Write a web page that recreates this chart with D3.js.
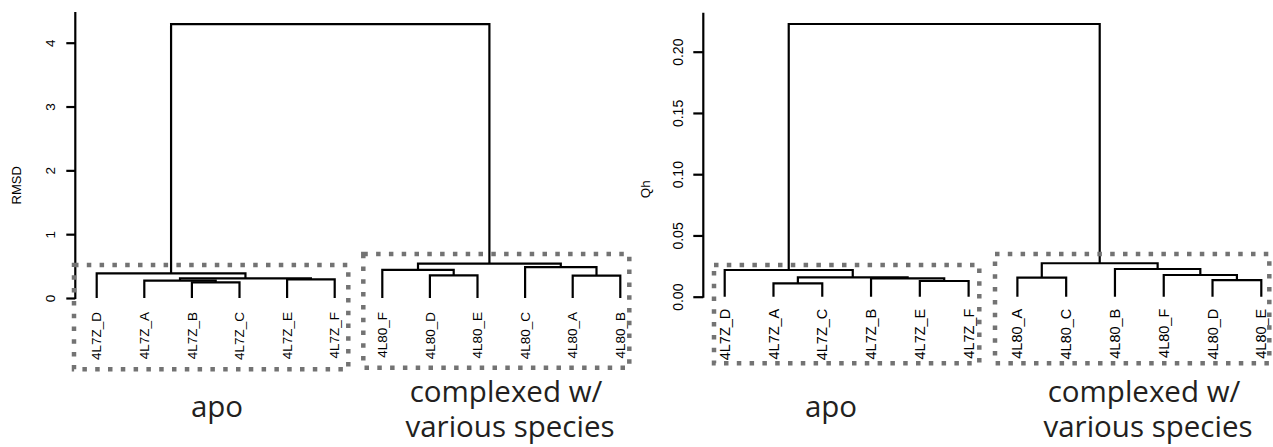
<!DOCTYPE html>
<html>
<head>
<meta charset="utf-8">
<style>
body { margin: 0; background: #fff; }
svg text { font-family: "Liberation Sans", Arial, Helvetica, sans-serif; fill: #000; }
.tree path { fill: none; stroke: #000; stroke-width: 2.2px; }
.axis line { stroke: #000; stroke-width: 2.2px; }
.box rect { fill: none; stroke: #737373; stroke-width: 4.5px; stroke-dasharray: 4.5,8.3; }
.group text { font-family: "Open Sans", sans-serif; fill: #231f20; text-anchor: middle; }
</style>
</head>
<body>
<script src="https://d3js.org/d3.v7.min.js"></script>
<script>
// leaf order as drawn, merges in R hclust style (negative = leaf, positive = earlier step)
var rmsdLeaves = ["4L7Z_D", "4L7Z_A", "4L7Z_B", "4L7Z_C", "4L7Z_E", "4L7Z_F",
                  "4L80_F", "4L80_D", "4L80_E", "4L80_C", "4L80_A", "4L80_B"];
var rmsdMerge = [[-3, -4], [-2, 1], [-5, -6], [2, 3], [-1, 4],
                 [-11, -12], [-8, -9], [-7, 7], [-10, 6], [8, 9], [5, 10]];
var rmsdHeight = [0.246, 0.271, 0.293, 0.309, 0.387,
                  0.35, 0.355, 0.44, 0.485, 0.54, 4.29];
var rmsdTicks = [0, 1, 2, 3, 4];

var qhLeaves = ["4L7Z_D", "4L7Z_A", "4L7Z_C", "4L7Z_B", "4L7Z_E", "4L7Z_F",
                "4L80_A", "4L80_C", "4L80_B", "4L80_F", "4L80_D", "4L80_E"];
var qhMerge = [[-2, -3], [-5, -6], [-11, -12], [-4, 2], [-7, -8], [1, 4],
               [-10, 3], [-1, 6], [-9, 7], [5, 9], [8, 10]];
var qhHeight = [0.0109, 0.0128, 0.0136, 0.0150, 0.0155, 0.0158,
                0.0177, 0.0218, 0.0226, 0.0273, 0.2226];
var qhTicks = [0, 0.05, 0.10, 0.15, 0.20];

var groupNames = [["apo"], ["complexed w/", "various species"]];

var width = 1273, height = 447;
var svg = d3.select("body").append("svg")
    .attr("width", width)
    .attr("height", height);

var panels = [
    {leaves: rmsdLeaves, merge: rmsdMerge, heights: rmsdHeight, ticks: rmsdTicks,
     title: "RMSD", fmt: d3.format("d"), axisTop: 4.48,
     xr: [96.7, 620.3], yr: [298, 42.7], ymax: 4, axisX: 75.3, tick: 9,
     titleX: 16, font: 13.5, tickFont: 13.5, labelGap: 14,
     boxes: [[74, 265, 348.3, 369.3], [363.3, 254, 629.3, 367.7]],
     text: [[217, 417], [506, 402]]},
    {leaves: qhLeaves, merge: qhMerge, heights: qhHeight, ticks: qhTicks,
     title: "Qh", fmt: d3.format(".2f"), axisTop: 0.2318,
     xr: [724.7, 1261.3], yr: [296.7, 51.7], ymax: 0.2, axisX: 703.3, tick: 10,
     titleX: 645, font: 14.5, tickFont: 14, labelGap: 12,
     boxes: [[714, 265, 979.3, 363.3], [995, 254, 1269.3, 363.3]],
     text: [[831, 417], [1144, 402]]}
];

panels.forEach(function(p) {
    var x = d3.scalePoint().domain(p.leaves).range(p.xr);
    var y = d3.scaleLinear().domain([0, p.ymax]).range(p.yr);

    // positions of each merge step
    var nodes = [];
    function pos(k) {
        if (k < 0) return {x: x(p.leaves[-k - 1]), h: 0};
        return nodes[k - 1];
    }
    p.merge.forEach(function(m, i) {
        var a = pos(m[0]), b = pos(m[1]);
        nodes.push({x: (a.x + b.x) / 2, h: p.heights[i], a: a, b: b});
    });

    svg.append("g")
        .attr("class", "tree")
        .selectAll("path")
        .data(nodes)
        .enter().append("path")
        .attr("d", function(d) {
            return "M" + d.a.x + "," + y(d.a.h) + "V" + y(d.h) +
                   "H" + d.b.x + "V" + y(d.b.h);
        });

    // leaf labels
    svg.append("g")
        .selectAll("text")
        .data(p.leaves)
        .enter().append("text")
        .attr("transform", function(d) {
            return "translate(" + x(d) + "," + (y(0) + p.labelGap) + ")rotate(-90)";
        })
        .attr("dy", "0.35em")
        .attr("text-anchor", "end")
        .style("font-size", p.font + "px")
        .text(function(d) { return d; });

    // y axis
    var axis = svg.append("g")
        .attr("class", "axis")
        .attr("transform", "translate(" + p.axisX + ",0)")
        .call(d3.axisLeft(y).tickValues(p.ticks).tickSize(p.tick).tickFormat(p.fmt));
    axis.select(".domain").remove();
    axis.selectAll(".tick line").attr("stroke-width", 2.2);
    axis.selectAll(".tick text")
        .attr("x", 0)
        .attr("y", -25)
        .attr("dy", "0.35em")
        .attr("transform", "rotate(-90)")
        .attr("text-anchor", "middle")
        .attr("fill", "#000")
        .style("font-size", p.tickFont + "px")
        .style("font-family", "Liberation Sans, Arial, sans-serif");
    axis.append("line")
        .attr("y1", y(0) + 1)
        .attr("y2", y(p.axisTop));

    svg.append("text")
        .attr("transform", "translate(" + p.titleX + "," + ((y(0) + y(p.ymax)) / 2 + 15) + ")rotate(-90)")
        .attr("dy", "0.35em")
        .attr("text-anchor", "middle")
        .style("font-size", (p.tickFont - 0.5) + "px")
        .text(p.title);

    // dashed group boxes
    svg.append("g")
        .attr("class", "box")
        .selectAll("rect")
        .data(p.boxes)
        .enter().append("rect")
        .attr("x", function(d) { return d[0]; })
        .attr("y", function(d) { return d[1]; })
        .attr("width", function(d) { return d[2] - d[0]; })
        .attr("height", function(d) { return d[3] - d[1]; });

    // group names, one text per group, lines as tspans
    svg.append("g")
        .attr("class", "group")
        .selectAll("text")
        .data(groupNames)
        .enter().append("text")
        .attr("y", function(d, i) { return p.text[i][1]; })
        .style("font-size", "29.5px")
        .each(function(lines, i) {
            d3.select(this).selectAll("tspan")
                .data(lines)
                .enter().append("tspan")
                .attr("x", function(s, j) { return p.text[i][0] + j * 4; })
                .attr("dy", function(s, j) { return j ? 35 : 0; })
                .text(function(s) { return s; });
        });
});
</script>
</body>
</html>
